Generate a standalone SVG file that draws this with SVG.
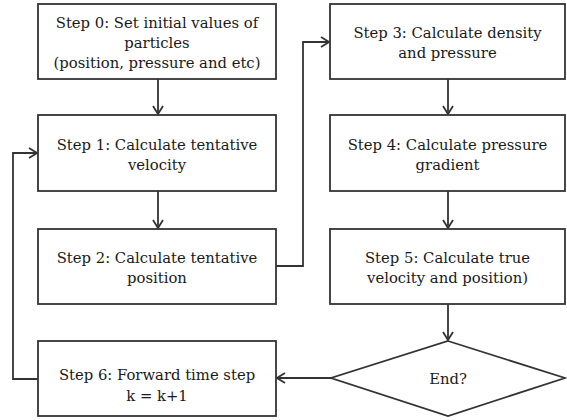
<svg xmlns="http://www.w3.org/2000/svg" width="567" height="420" viewBox="0 0 567 420">
<defs>
<style>
.box{fill:#fff;stroke:#333;stroke-width:1.8}
.t{font-family:"DejaVu Serif","Liberation Serif",serif;font-size:14.8px;fill:#1a1a1a;text-anchor:middle}
.c{fill:none;stroke:#333;stroke-width:1.8}
</style>
<marker id="a" viewBox="0 0 10 12" refX="9" refY="6" markerWidth="10" markerHeight="12" markerUnits="userSpaceOnUse" orient="auto">
<polyline points="1,1 9,6 1,11" fill="none" stroke="#333" stroke-width="1.8"/>
</marker>
</defs>
<rect width="567" height="420" fill="#fff"/>
<g id="connectors">
<line class="c" x1="158" y1="79" x2="158" y2="114" marker-end="url(#a)"/>
<line class="c" x1="158" y1="191" x2="158" y2="228" marker-end="url(#a)"/>
<polyline class="c" points="276,266 303,266 303,42 329,42" marker-end="url(#a)"/>
<line class="c" x1="448" y1="79" x2="448" y2="114" marker-end="url(#a)"/>
<line class="c" x1="448" y1="191" x2="448" y2="228" marker-end="url(#a)"/>
<line class="c" x1="448" y1="304" x2="448" y2="340" marker-end="url(#a)"/>
<line class="c" x1="331" y1="378" x2="277" y2="378" marker-end="url(#a)"/>
<polyline class="c" points="38,379 13,379 13,153 37,153" marker-end="url(#a)"/>
</g>
<g id="step0"><rect class="box" x="38" y="4" width="238" height="75"/>
<text class="t" x="157" y="28">Step 0: Set initial values of</text>
<text class="t" x="157" y="48">particles</text>
<text class="t" x="157" y="68">(position, pressure and etc)</text></g>
<g id="step1"><rect class="box" x="38" y="115" width="238" height="76"/>
<text class="t" x="157" y="150">Step 1: Calculate tentative</text>
<text class="t" x="157" y="170">velocity</text></g>
<g id="step2"><rect class="box" x="38" y="229" width="238" height="75"/>
<text class="t" x="157" y="263">Step 2: Calculate tentative</text>
<text class="t" x="157" y="283">position</text></g>
<g id="step3"><rect class="box" x="330" y="4" width="235" height="75"/>
<text class="t" x="447.5" y="38">Step 3: Calculate density</text>
<text class="t" x="447.5" y="58">and pressure</text></g>
<g id="step4"><rect class="box" x="330" y="115" width="235" height="76"/>
<text class="t" x="447.5" y="150">Step 4: Calculate pressure</text>
<text class="t" x="447.5" y="170">gradient</text></g>
<g id="step5"><rect class="box" x="330" y="229" width="235" height="75"/>
<text class="t" x="447.5" y="263">Step 5: Calculate true</text>
<text class="t" x="447.5" y="283">velocity and position)</text></g>
<g id="step6"><rect class="box" x="38" y="341" width="238" height="75"/>
<text class="t" x="157" y="380">Step 6: Forward time step</text>
<text class="t" x="157" y="401">k = k+1</text></g>
<g id="end"><polygon class="box" points="448,341 565,378 448,416 331,378"/>
<text class="t" x="448" y="384">End?</text></g>
</svg>
